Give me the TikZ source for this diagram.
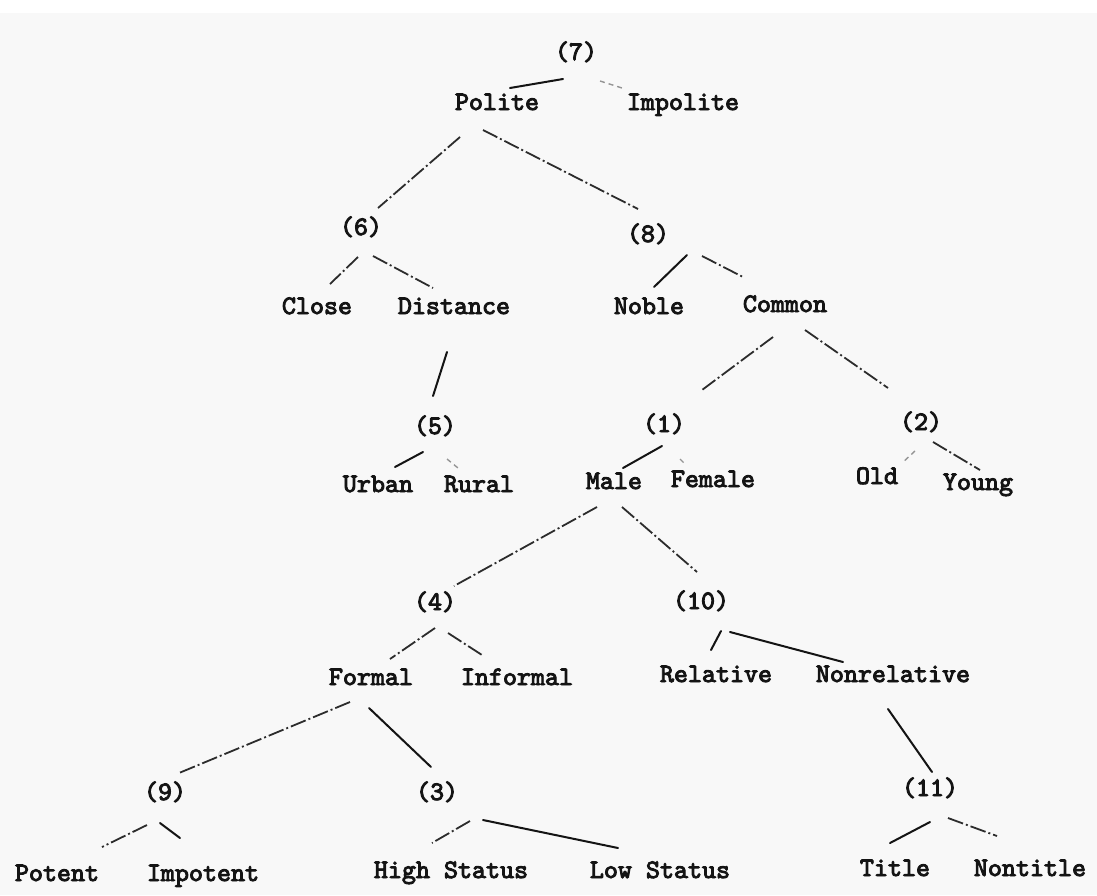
\documentclass[tikz,border=0pt]{standalone}
\usepackage{fontspec}
\newfontfamily\tw{lmmono10-regular.otf}[FakeBold=3.5]
\usetikzlibrary{calc}
\definecolor{ink}{HTML}{141414}
\definecolor{paper}{HTML}{F8F8F8}
\tikzset{
  lbl/.style={anchor=base, inner sep=0pt, font=\tw\fontsize{26.7}{30}\selectfont, text=ink},
  solidln/.style={draw=ink, line width=2pt, line cap=round},
  brokenln/.style={draw=ink!90, line width=1.8pt, dash pattern=on 16pt off 3pt on 2pt off 3pt},
  faintln/.style={draw=ink!45, line width=1.4pt, dash pattern=on 5pt off 4pt},
}
% edge from one label to another, each end given as an offset from the label's base point
\newcommand\treeedge[5]{\draw[#1] ($(#2.base)+#3$) -- ($(#4.base)+#5$);}
\begin{document}
\begin{tikzpicture}[x=1pt,y=-1pt]
\useasboundingbox (0,0) rectangle (1097,895);
\fill[white] (0,0) rectangle (1097,895);
\fill[paper] (0,13) rectangle (1097,895);

% labels
\node[lbl] (n7)   at (576,60)  {(7)};
\node[lbl] (pol)  at (497,110) {Polite};
\node[lbl] (imp)  at (683,110) {Impolite};
\node[lbl] (n6)   at (361,235) {(6)};
\node[lbl] (n8)   at (648,242) {(8)};
\node[lbl] (clo)  at (317,314) {Close};
\node[lbl] (dis)  at (454,314) {Distance};
\node[lbl] (nob)  at (649,314) {Noble};
\node[lbl] (com)  at (785,312) {Common};
\node[lbl] (n5)   at (435,434) {(5)};
\node[lbl] (n1)   at (664,432) {(1)};
\node[lbl] (n2)   at (921,430) {(2)};
\node[lbl] (urb)  at (378,492) {Urban};
\node[lbl] (rur)  at (479,492) {Rural};
\node[lbl] (mal)  at (614,489) {Male};
\node[lbl] (fem)  at (713,487) {Female};
\node[lbl] (old)  at (877,484) {Old};
\node[lbl] (you)  at (978,490) {Young};
\node[lbl] (n4)   at (435,610) {(4)};
\node[lbl] (n10)  at (701,609) {(10)};
\node[lbl] (for)  at (371,685) {Formal};
\node[lbl] (inf)  at (517,685) {Informal};
\node[lbl] (rel)  at (716,682) {Relative};
\node[lbl] (nrel) at (893,682) {Nonrelative};
\node[lbl] (n9)   at (165,800) {(9)};
\node[lbl] (n3)   at (437,800) {(3)};
\node[lbl] (n11)  at (930,796) {(11)};
\node[lbl] (pot)  at (57,881)  {Potent};
\node[lbl] (ipot) at (203,881) {Impotent};
\node[lbl] (hig)  at (451,878) {High Status};
\node[lbl] (low)  at (660,878) {Low Status};
\node[lbl] (tit)  at (895,876) {Title};
\node[lbl] (ntit) at (1030,876) {Nontitle};

% branches
\treeedge{solidln}{n7}{(-13,19)}{pol}{(13,-22)}
\treeedge{faintln}{n7}{(24,21)}{imp}{(-61,-22)}
\treeedge{brokenln}{pol}{(-37,27)}{n6}{(17,-27)}
\treeedge{brokenln}{pol}{(-14,20)}{n8}{(-10,-33)}
\treeedge{brokenln}{n6}{(-3,22)}{clo}{(13,-30)}
\treeedge{brokenln}{n6}{(12,21)}{dis}{(-21,-26)}
\treeedge{solidln}{n8}{(39,13)}{nob}{(5,-27)}
\treeedge{brokenln}{n8}{(54,14)}{com}{(-42,-35)}
\treeedge{solidln}{dis}{(-7,38)}{n5}{(-2,-38)}
\treeedge{brokenln}{com}{(-12,25)}{n1}{(38,-42)}
\treeedge{brokenln}{com}{(20,18)}{n2}{(-33,-42)}
\treeedge{solidln}{n5}{(-12,18)}{urb}{(17,-25)}
\treeedge{faintln}{n5}{(12,25)}{rur}{(-21,-24)}
\treeedge{solidln}{n1}{(-2,14)}{mal}{(9,-21)}
\treeedge{faintln}{n1}{(16,27)}{fem}{(-29,-24)}
\treeedge{faintln}{n2}{(-6,21)}{old}{(25,-21)}
\treeedge{brokenln}{n2}{(12,12)}{you}{(2,-20)}
\treeedge{brokenln}{mal}{(-17,18)}{n4}{(19,-24)}
\treeedge{brokenln}{mal}{(8,18)}{n10}{(-4,-37)}
\treeedge{brokenln}{n4}{(0,18)}{for}{(19,-26)}
\treeedge{brokenln}{n4}{(13,23)}{inf}{(-35,-30)}
\treeedge{solidln}{n10}{(20,22)}{rel}{(-5,-32)}
\treeedge{solidln}{n10}{(29,23)}{nrel}{(-50,-20)}
\treeedge{brokenln}{for}{(-21,17)}{n9}{(14,-27)}
\treeedge{solidln}{for}{(-2,23)}{n3}{(-6,-33)}
\treeedge{solidln}{nrel}{(-5,27)}{n11}{(2,-24)}
\treeedge{brokenln}{n9}{(-18,25)}{pot}{(45,-34)}
\treeedge{solidln}{n9}{(-5,23)}{ipot}{(-23,-43)}
\treeedge{brokenln}{n3}{(33,21)}{hig}{(-19,-35)}
\treeedge{solidln}{n3}{(46,20)}{low}{(-42,-30)}
\treeedge{solidln}{n11}{(0,26)}{tit}{(-5,-33)}
\treeedge{brokenln}{n11}{(18,22)}{ntit}{(-33,-40)}
\end{tikzpicture}
\end{document}
